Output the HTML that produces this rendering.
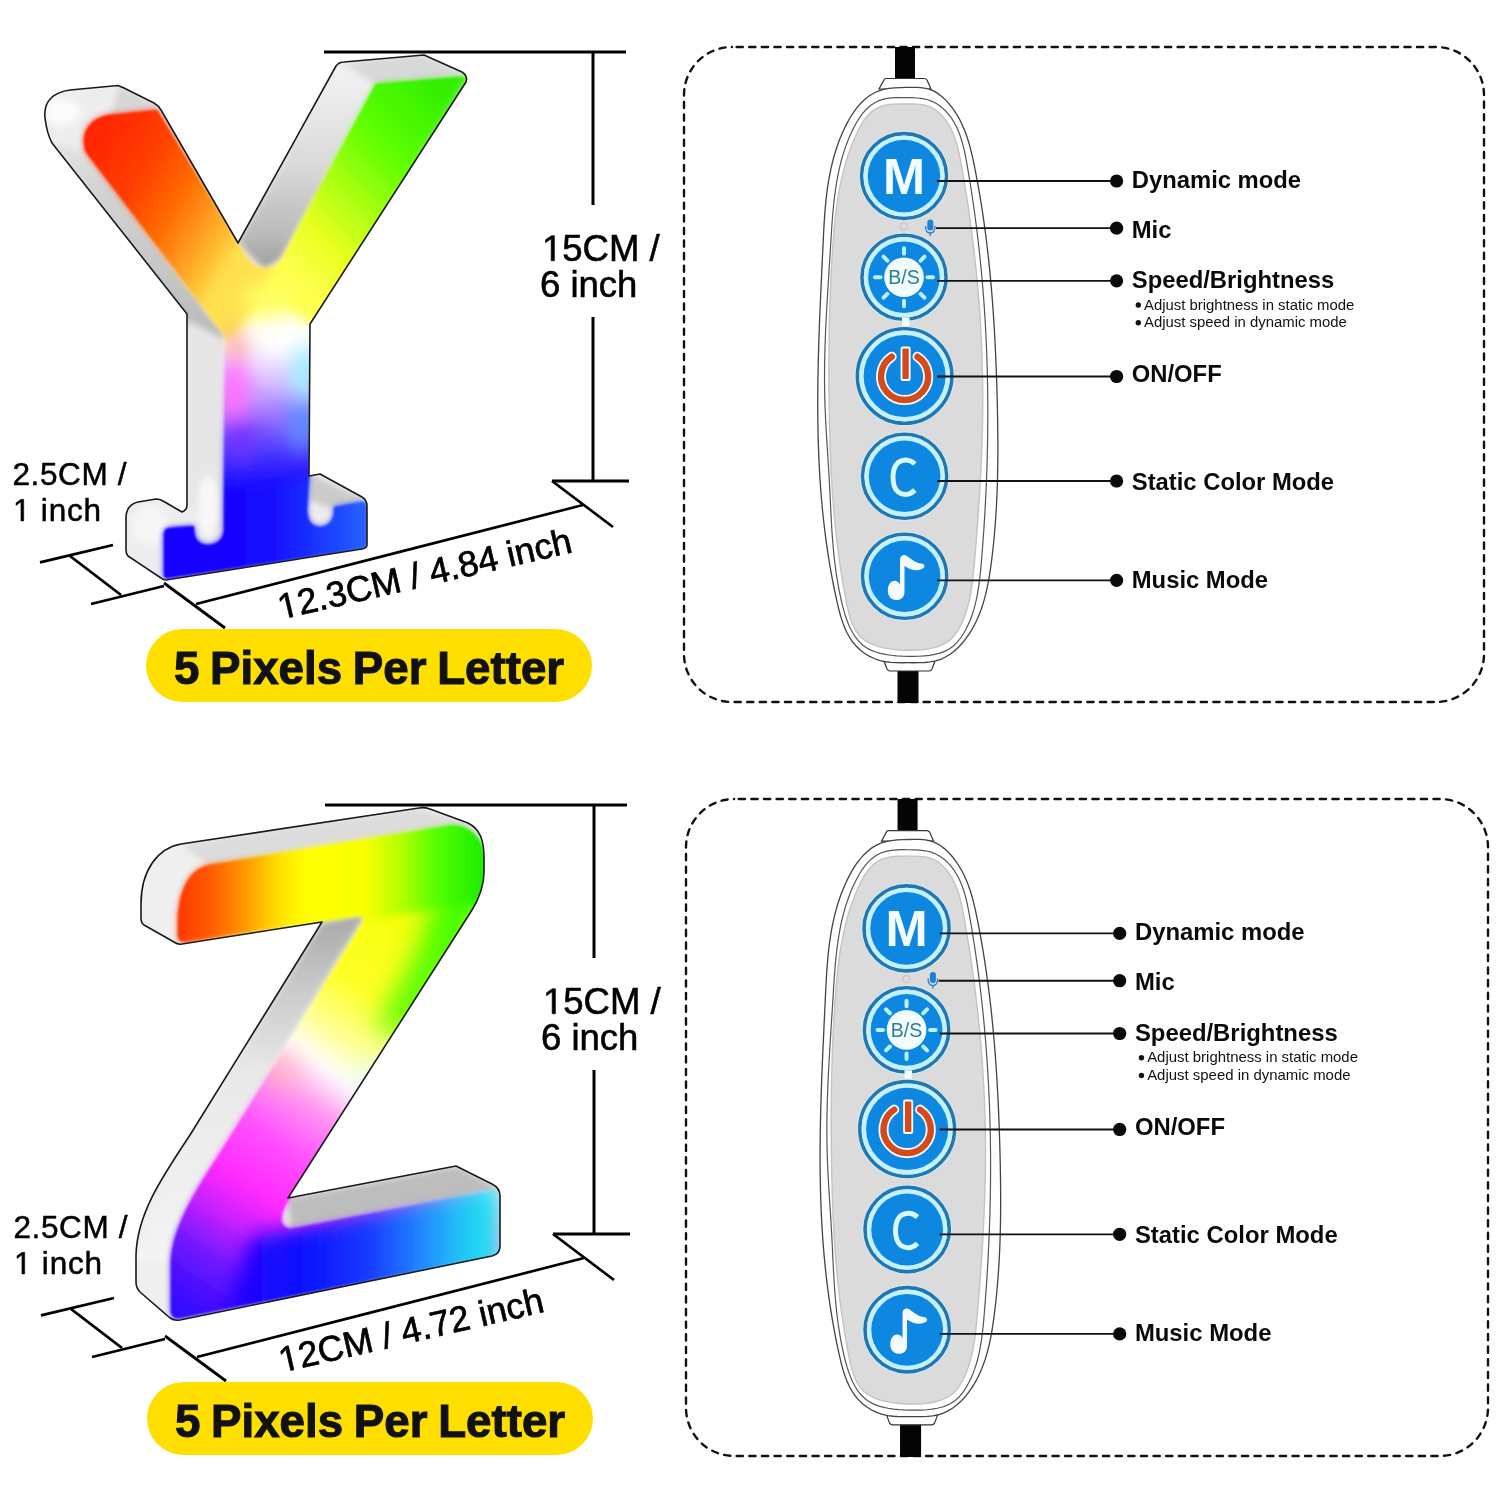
<!DOCTYPE html>
<html><head><meta charset="utf-8"><style>
html,body{margin:0;padding:0;background:#fff;}
body{width:1500px;height:1500px;overflow:hidden;font-family:"Liberation Sans", sans-serif;}
svg{display:block;}
</style></head><body>
<svg width="1500" height="1500" viewBox="0 0 1500 1500">
<rect width="1500" height="1500" fill="#fff"/>
<defs><filter id="bl22" filterUnits="userSpaceOnUse" x="0" y="0" width="800" height="1500"><feGaussianBlur stdDeviation="22"/></filter>
<filter id="bl14" filterUnits="userSpaceOnUse" x="0" y="0" width="800" height="1500"><feGaussianBlur stdDeviation="14"/></filter>
<filter id="bl10" filterUnits="userSpaceOnUse" x="0" y="0" width="800" height="1500"><feGaussianBlur stdDeviation="10"/></filter>
<filter id="bl8" filterUnits="userSpaceOnUse" x="0" y="0" width="800" height="1500"><feGaussianBlur stdDeviation="8"/></filter>
<filter id="bl6" filterUnits="userSpaceOnUse" x="0" y="0" width="800" height="1500"><feGaussianBlur stdDeviation="6"/></filter>
<filter id="bl4" filterUnits="userSpaceOnUse" x="0" y="0" width="800" height="1500"><feGaussianBlur stdDeviation="4"/></filter>
<filter id="bl3" filterUnits="userSpaceOnUse" x="0" y="0" width="800" height="1500"><feGaussianBlur stdDeviation="3"/></filter>
<filter id="bl2" filterUnits="userSpaceOnUse" x="0" y="0" width="800" height="1500"><feGaussianBlur stdDeviation="2.2"/></filter>
<filter id="bl1" filterUnits="userSpaceOnUse" x="0" y="0" width="800" height="1500"><feGaussianBlur stdDeviation="1.2"/></filter></defs>
<defs>
<clipPath id="yclip"><path d="M45,118 C43,100 55,92 70,90 L118,85.5 L124,88 L154,103 Q159,106 161,110 L238,243 L336,66 Q339,62 344,62 L424,55 L462,72 Q468,76 466,82 L310,324 L309,476 L320,474 L362,497 Q367,500 367,506 L367,545 Q367,548 362,549 L166,580 Q163,580 161,578 L128,556 Q126,554 126,550 L126,518 Q126,505 138,502 L156,499 Q160,499 163,501 L182,512 Q187,510 187,505 L187,314 L52,143 Q47,134 45,118 Z"/></clipPath>
<mask id="yface" maskUnits="userSpaceOnUse" x="0" y="0" width="700" height="700"><path d="M86,152 C80,135 88,118 110,115 L157,110 L238,244 C244,256 252,268 264,269 C272,270 278,265 282,258 L376,84 L462,77 Q468,77 466,84 L310,324 L309,476 L307,510 C307,522 313,527 320,527 C328,527 334,520 334,512 L334,507 L362,502 Q367,502 367,507 L367,543 Q367,548 362,549 L168,578 Q164,579 164,575 L164,534 Q164,528 170,528 L194,526 L194,530 C194,540 200,545 208,545 C218,545 224,538 224,530 L225,335 Z" fill="#fff" filter="url(#bl3)"/><path d="M86,152 C80,135 88,118 110,115 L157,110 L238,244 C244,256 252,268 264,269 C272,270 278,265 282,258 L376,84 L462,77 Q468,77 466,84 L310,324 L309,476 L307,510 C307,522 313,527 320,527 C328,527 334,520 334,512 L334,507 L362,502 Q367,502 367,507 L367,543 Q367,548 362,549 L168,578 Q164,579 164,575 L164,534 Q164,528 170,528 L194,526 L194,530 C194,540 200,545 208,545 C218,545 224,538 224,530 L225,335 Z" fill="#fff" filter="url(#bl1)"/></mask>
<linearGradient id="yrarm" gradientUnits="userSpaceOnUse" x1="0" y1="60" x2="0" y2="270"><stop offset="0" stop-color="#f4f4f4"/><stop offset="0.5" stop-color="#dadada"/><stop offset="0.85" stop-color="#b8b8b8"/><stop offset="1" stop-color="#9c9c9c"/></linearGradient>
<linearGradient id="ylarm" gradientUnits="userSpaceOnUse" x1="0" y1="120" x2="0" y2="340"><stop offset="0" stop-color="#ececec"/><stop offset="0.3" stop-color="#d4d4d4"/><stop offset="0.7" stop-color="#c6c6c6"/><stop offset="1" stop-color="#b8b8b8"/></linearGradient>
<linearGradient id="yl" gradientUnits="userSpaceOnUse" x1="95" y1="150" x2="245" y2="240"><stop offset="0" stop-color="#ff2800"/><stop offset="0.3" stop-color="#ff4000"/><stop offset="0.55" stop-color="#ff6a00"/><stop offset="0.75" stop-color="#ff9a20"/><stop offset="0.9" stop-color="#ffc030"/><stop offset="1" stop-color="#ffe050"/></linearGradient>
<linearGradient id="yr" gradientUnits="userSpaceOnUse" x1="285" y1="270" x2="455" y2="100"><stop offset="0" stop-color="#ffff50"/><stop offset="0.2" stop-color="#eaff20"/><stop offset="0.42" stop-color="#a8ff10"/><stop offset="0.65" stop-color="#60ff00"/><stop offset="1" stop-color="#30f000"/></linearGradient>
<linearGradient id="ys" gradientUnits="userSpaceOnUse" x1="0" y1="290" x2="0" y2="520"><stop offset="0" stop-color="#ffff70"/><stop offset="0.2" stop-color="#ffffff"/><stop offset="0.38" stop-color="#e0c8ff"/><stop offset="0.55" stop-color="#9a70ff"/><stop offset="0.72" stop-color="#4030ff"/><stop offset="0.86" stop-color="#1a0cff"/><stop offset="1" stop-color="#1008ff"/></linearGradient>
<linearGradient id="yb" gradientUnits="userSpaceOnUse" x1="160" y1="0" x2="370" y2="0"><stop offset="0" stop-color="#1a00ff"/><stop offset="0.5" stop-color="#1208ff"/><stop offset="0.8" stop-color="#1c40ff"/><stop offset="1" stop-color="#2a66ff"/></linearGradient>
</defs>
<path d="M45,118 C43,100 55,92 70,90 L118,85.5 L124,88 L154,103 Q159,106 161,110 L238,243 L336,66 Q339,62 344,62 L424,55 L462,72 Q468,76 466,82 L310,324 L309,476 L320,474 L362,497 Q367,500 367,506 L367,545 Q367,548 362,549 L166,580 Q163,580 161,578 L128,556 Q126,554 126,550 L126,518 Q126,505 138,502 L156,499 Q160,499 163,501 L182,512 Q187,510 187,505 L187,314 L52,143 Q47,134 45,118 Z" fill="#ededed"/>
<g clip-path="url(#yclip)">
<g filter="url(#bl3)">
<path d="M52,143 L86,152 L225,335 L225,345 L187,330 Z" fill="url(#ylarm)"/>
<path d="M238,243 L336,66 L376,84 L282,258 L264,269 Z" fill="url(#yrarm)"/>
<path d="M344,62 L424,55 L462,72 L462,78 L376,86 Z" fill="#d8d8d8"/>
<path d="M120,85 L154,103 L161,112 L110,116 Z" fill="#d6d6d6"/>
<path d="M187,320 L225,340 L225,545 L187,505 Z" fill="#e6e6e6"/>
<path d="M309,474 L362,497 L367,506 L334,510 L309,500 Z" fill="#cbcbcb"/>
<ellipse cx="62" cy="112" rx="18" ry="14" fill="#fbfbfb"/>
<ellipse cx="150" cy="525" rx="18" ry="20" fill="#f6f6f6"/>
<ellipse cx="208" cy="505" rx="10" ry="30" fill="#f8f8f8"/>
</g>
<g mask="url(#yface)">
<g filter="url(#bl8)">
<rect x="150" y="280" width="200" height="300" fill="url(#ys)"/>
</g>
<g filter="url(#bl4)">
<path d="M60,100 L170,90 L290,285 L262,300 L232,340 L180,340 L60,170 Z" fill="url(#yl)"/>
<path d="M262,292 L370,70 L480,60 L320,330 L290,310 Z" fill="url(#yr)"/>
</g>
<g filter="url(#bl10)">
<ellipse cx="268" cy="300" rx="26" ry="18" fill="#ffff60"/>
<ellipse cx="282" cy="338" rx="26" ry="16" fill="#ffffff"/>
<ellipse cx="236" cy="345" rx="14" ry="14" fill="#ffb0a0"/>
<ellipse cx="234" cy="392" rx="16" ry="34" fill="#ff70ff"/>
<ellipse cx="304" cy="372" rx="14" ry="28" fill="#9ff0ff"/>
<ellipse cx="302" cy="425" rx="14" ry="26" fill="#5a90ff"/>
<ellipse cx="240" cy="440" rx="16" ry="22" fill="#7030ff"/>
</g>
<g filter="url(#bl4)">
<path d="M150,500 L380,470 L380,590 L150,590 Z" fill="url(#yb)"/>
</g>
</g>
</g>
<path d="M45,118 C43,100 55,92 70,90 L118,85.5 L124,88 L154,103 Q159,106 161,110 L238,243 L336,66 Q339,62 344,62 L424,55 L462,72 Q468,76 466,82 L310,324 L309,476 L320,474 L362,497 Q367,500 367,506 L367,545 Q367,548 362,549 L166,580 Q163,580 161,578 L128,556 Q126,554 126,550 L126,518 Q126,505 138,502 L156,499 Q160,499 163,501 L182,512 Q187,510 187,505 L187,314 L52,143 Q47,134 45,118 Z" fill="none" stroke="#1a1a1a" stroke-width="1.6" stroke-linejoin="round"/>
<defs>
<clipPath id="zclip"><path d="M141,904 C141,870 158,848 181,844 L419,808 Q424,807 430,809 L468,823 C480,829 484,840 484,858 L484,872 C484,885 480,897 472,910 L288,1198 L456,1166 L492,1184 Q500,1188 500,1196 L500,1246 Q500,1254 492,1256 L180,1320 Q174,1321 170,1318 L140,1292 Q136,1288 136,1282 L136,1255 C137,1215 160,1180 190,1135 L322,922 L182,944 Q178,945 174,942 L144,925 Q141,923 141,918 Z"/></clipPath>
<mask id="zface" maskUnits="userSpaceOnUse" x="0" y="700" width="700" height="800"><path d="M178,925 C178,890 190,868 210,865 L449,826 C465,824 484,836 484,858 L484,872 C484,885 480,897 472,910 L292,1194 C280,1212 276,1226 290,1229 L494,1190 Q500,1189 500,1196 L500,1246 Q500,1254 492,1256 L180,1318 Q171,1320 171,1310 L171,1262 C172,1225 200,1185 222,1150 L364,922 Q366,914 358,915 L186,942 Q178,943 178,935 Z" fill="#fff" filter="url(#bl3)"/><path d="M178,925 C178,890 190,868 210,865 L449,826 C465,824 484,836 484,858 L484,872 C484,885 480,897 472,910 L292,1194 C280,1212 276,1226 290,1229 L494,1190 Q500,1189 500,1196 L500,1246 Q500,1254 492,1256 L180,1318 Q171,1320 171,1310 L171,1262 C172,1225 200,1185 222,1150 L364,922 Q366,914 358,915 L186,942 Q178,943 178,935 Z" fill="#fff" filter="url(#bl1)"/></mask>
<linearGradient id="zdiag" gradientUnits="userSpaceOnUse" x1="0" y1="915" x2="0" y2="1260"><stop offset="0" stop-color="#a8a8a8"/><stop offset="0.2" stop-color="#c8c8c8"/><stop offset="0.45" stop-color="#e8e8e8"/><stop offset="1" stop-color="#f4f4f4"/></linearGradient>
<linearGradient id="zt" gradientUnits="userSpaceOnUse" x1="180" y1="0" x2="480" y2="0"><stop offset="0" stop-color="#ff3a00"/><stop offset="0.1" stop-color="#ff5a00"/><stop offset="0.22" stop-color="#ff9a00"/><stop offset="0.33" stop-color="#ffe000"/><stop offset="0.42" stop-color="#ffff00"/><stop offset="0.62" stop-color="#f8ff00"/><stop offset="0.74" stop-color="#b0ff00"/><stop offset="0.86" stop-color="#50ff00"/><stop offset="1" stop-color="#20ee00"/></linearGradient>
<linearGradient id="zd" gradientUnits="userSpaceOnUse" x1="440" y1="900" x2="170" y2="1300"><stop offset="0" stop-color="#f4ff00"/><stop offset="0.25" stop-color="#ffff28"/><stop offset="0.36" stop-color="#ffffa0"/><stop offset="0.42" stop-color="#ffffff"/><stop offset="0.5" stop-color="#ff98f0"/><stop offset="0.6" stop-color="#ff50ff"/><stop offset="0.72" stop-color="#ff28ff"/><stop offset="0.8" stop-color="#c020ff"/><stop offset="0.88" stop-color="#7018ff"/><stop offset="1" stop-color="#3008ff"/></linearGradient>
<linearGradient id="zb" gradientUnits="userSpaceOnUse" x1="170" y1="0" x2="500" y2="0"><stop offset="0" stop-color="#4a00ff"/><stop offset="0.2" stop-color="#2400ff"/><stop offset="0.4" stop-color="#0c10ff"/><stop offset="0.6" stop-color="#1838ff"/><stop offset="0.75" stop-color="#2080ff"/><stop offset="0.86" stop-color="#20b8f8"/><stop offset="0.95" stop-color="#22dcf0"/><stop offset="1" stop-color="#30ecf0"/></linearGradient>
</defs>
<path d="M141,904 C141,870 158,848 181,844 L419,808 Q424,807 430,809 L468,823 C480,829 484,840 484,858 L484,872 C484,885 480,897 472,910 L288,1198 L456,1166 L492,1184 Q500,1188 500,1196 L500,1246 Q500,1254 492,1256 L180,1320 Q174,1321 170,1318 L140,1292 Q136,1288 136,1282 L136,1255 C137,1215 160,1180 190,1135 L322,922 L182,944 Q178,945 174,942 L144,925 Q141,923 141,918 Z" fill="#efefef"/>
<g clip-path="url(#zclip)">
<g filter="url(#bl3)">
<path d="M322,922 L366,914 L222,1150 L171,1265 L136,1258 L190,1135 Z" fill="url(#zdiag)"/>
<path d="M181,844 L419,808 L468,823 L484,840 L449,828 L210,866 Z" fill="#dcdcdc"/>
<path d="M288,1198 L456,1166 L492,1184 L500,1192 L290,1229 Z" fill="#bdbdbd"/>
</g>
<g mask="url(#zface)">
<g filter="url(#bl8)">
<path d="M120,900 L500,860 L500,1350 L120,1350 Z" fill="url(#zd)"/>
</g>
<g filter="url(#bl14)">
<path d="M500,840 L500,890 L478,925 L405,1035 L378,1030 L420,950 L440,880 L450,840 Z" fill="#40ff00"/>
<ellipse cx="372" cy="1082" rx="12" ry="26" transform="rotate(32 372 1082)" fill="#d8ffff"/>
<ellipse cx="283" cy="1070" rx="12" ry="16" fill="#ffb0a0"/>
</g>
<g filter="url(#bl4)">
<path d="M130,790 L500,770 L500,900 L380,918 L130,955 Z" fill="url(#zt)"/>
</g>
<g filter="url(#bl10)">
<path d="M250,1238 L500,1182 L500,1340 L215,1340 Z" fill="url(#zb)"/>
</g>
</g>
</g>
<path d="M141,904 C141,870 158,848 181,844 L419,808 Q424,807 430,809 L468,823 C480,829 484,840 484,858 L484,872 C484,885 480,897 472,910 L288,1198 L456,1166 L492,1184 Q500,1188 500,1196 L500,1246 Q500,1254 492,1256 L180,1320 Q174,1321 170,1318 L140,1292 Q136,1288 136,1282 L136,1255 C137,1215 160,1180 190,1135 L322,922 L182,944 Q178,945 174,942 L144,925 Q141,923 141,918 Z" fill="none" stroke="#1a1a1a" stroke-width="1.6" stroke-linejoin="round"/>
<g id="p1">
<rect x="684" y="47" width="800" height="655" rx="48" ry="48" fill="none" stroke="#111" stroke-width="2.4" stroke-dasharray="6.2 6.4" stroke-dashoffset="-4.6" stroke-linecap="round"/>
<rect x="895" y="47" width="20" height="33" fill="#050505"/>
<rect x="897.5" y="669" width="21" height="34" fill="#050505"/>
<path d="M884,80 Q884,78.5 886,78.5 L924,78.5 Q926,78.5 927,80 L931,89 L879,89 Z" fill="#fff" stroke="#333" stroke-width="1.2"/>
<path d="M884,661 L935,661 L932,669 Q931,671 929,671 L890,671 Q888,671 887,669 Z" fill="#fff" stroke="#333" stroke-width="1.2"/>
<path d="M906.18,87.39 L911.88,87.28 L917.44,87.35 L922.84,87.81 L928.03,88.87 L932.99,90.70 L937.69,93.36 L942.09,96.71 L946.20,100.59 L949.98,104.86 L953.41,109.37 L956.50,114.03 L959.27,118.81 L961.75,123.72 L963.96,128.72 L965.94,133.82 L967.70,139.00 L969.29,144.25 L970.71,149.56 L972.01,154.91 L973.21,160.30 L974.33,165.71 L975.41,171.13 L976.45,176.56 L977.46,181.99 L978.44,187.42 L979.39,192.86 L980.31,198.30 L981.19,203.75 L982.05,209.21 L982.87,214.66 L983.67,220.12 L984.44,225.59 L985.18,231.06 L985.90,236.53 L986.58,242.00 L987.24,247.48 L987.88,252.96 L988.49,258.44 L989.07,263.93 L989.63,269.42 L990.17,274.91 L990.68,280.40 L991.17,285.90 L991.64,291.40 L992.09,296.89 L992.52,302.40 L992.93,307.90 L993.31,313.40 L993.68,318.91 L994.03,324.41 L994.36,329.92 L994.67,335.42 L994.97,340.93 L995.25,346.44 L995.51,351.95 L995.76,357.45 L995.99,362.96 L996.21,368.47 L996.41,373.98 L996.60,379.48 L996.78,384.99 L996.95,390.49 L997.10,396.00 L997.24,401.50 L997.38,407.00 L997.49,412.50 L997.60,418.00 L997.69,423.50 L997.76,428.99 L997.82,434.49 L997.86,439.99 L997.88,445.48 L997.88,450.98 L997.85,456.47 L997.81,461.97 L997.73,467.46 L997.63,472.96 L997.51,478.45 L997.36,483.95 L997.17,489.45 L996.96,494.95 L996.71,500.44 L996.43,505.94 L996.12,511.45 L995.77,516.95 L995.38,522.45 L994.95,527.96 L994.49,533.46 L993.98,538.97 L993.43,544.48 L992.84,549.99 L992.21,555.51 L991.53,561.02 L990.79,566.54 L989.99,572.05 L989.11,577.54 L988.13,583.01 L987.02,588.44 L985.78,593.83 L984.39,599.17 L982.83,604.45 L981.07,609.66 L979.12,614.80 L976.94,619.84 L974.52,624.80 L971.85,629.65 L968.90,634.38 L965.68,638.94 L962.19,643.26 L958.43,647.30 L954.39,650.98 L950.09,654.24 L945.52,657.03 L940.69,659.27 L935.59,660.92 L930.25,661.96 L924.71,662.51 L919.05,662.72 L913.33,662.75 L907.61,662.72 L901.95,662.74 L896.35,662.68 L890.81,662.40 L885.35,661.75 L879.96,660.58 L874.67,658.77 L869.55,656.38 L864.73,653.45 L860.30,650.09 L856.37,646.34 L852.91,642.26 L849.90,637.88 L847.27,633.25 L844.99,628.38 L843.00,623.33 L841.26,618.12 L839.72,612.79 L838.34,607.38 L837.07,601.92 L835.86,596.45 L834.70,590.98 L833.58,585.50 L832.51,580.03 L831.48,574.55 L830.50,569.08 L829.57,563.60 L828.67,558.12 L827.81,552.64 L827.00,547.16 L826.23,541.68 L825.49,536.20 L824.80,530.72 L824.14,525.23 L823.52,519.75 L822.94,514.26 L822.39,508.78 L821.88,503.29 L821.40,497.81 L820.95,492.32 L820.54,486.83 L820.16,481.34 L819.81,475.85 L819.49,470.36 L819.20,464.87 L818.93,459.37 L818.70,453.88 L818.50,448.39 L818.32,442.89 L818.16,437.40 L818.03,431.90 L817.93,426.40 L817.85,420.91 L817.79,415.41 L817.76,409.91 L817.74,404.41 L817.75,398.91 L817.78,393.41 L817.82,387.90 L817.88,382.40 L817.97,376.90 L818.06,371.39 L818.18,365.89 L818.31,360.38 L818.45,354.87 L818.60,349.37 L818.77,343.86 L818.95,338.35 L819.14,332.84 L819.35,327.32 L819.56,321.81 L819.78,316.30 L820.00,310.78 L820.24,305.26 L820.48,299.75 L820.72,294.23 L820.97,288.71 L821.23,283.18 L821.49,277.66 L821.74,272.14 L822.01,266.61 L822.27,261.09 L822.53,255.56 L822.79,250.03 L823.05,244.50 L823.31,238.96 L823.58,233.43 L823.88,227.91 L824.20,222.39 L824.57,216.87 L824.98,211.37 L825.45,205.88 L825.99,200.40 L826.60,194.93 L827.30,189.49 L828.09,184.06 L828.99,178.65 L829.99,173.26 L831.12,167.91 L832.37,162.57 L833.77,157.27 L835.31,151.99 L837.00,146.75 L838.87,141.54 L840.91,136.37 L843.13,131.24 L845.54,126.15 L848.16,121.13 L851.00,116.24 L854.08,111.55 L857.40,107.12 L861.00,103.01 L864.87,99.28 L869.05,96.00 L873.54,93.22 L878.36,91.01 L883.52,89.42 L888.98,88.41 L894.65,87.84 L900.41,87.55Z" fill="#fff" stroke="#444" stroke-width="1.3"/>
<path d="M906.15,97.58 L911.84,97.69 L917.36,97.98 L922.70,98.63 L927.81,99.78 L932.65,101.59 L937.21,104.08 L941.44,107.15 L945.30,110.66 L948.76,114.52 L951.82,118.63 L954.50,122.99 L956.84,127.55 L958.89,132.29 L960.66,137.20 L962.21,142.25 L963.57,147.41 L964.76,152.65 L965.83,157.96 L966.82,163.31 L967.75,168.67 L968.66,174.03 L969.55,179.39 L970.41,184.74 L971.25,190.09 L972.07,195.43 L972.86,200.77 L973.63,206.10 L974.38,211.44 L975.11,216.76 L975.82,222.09 L976.50,227.41 L977.17,232.73 L977.81,238.05 L978.43,243.36 L979.03,248.67 L979.61,253.98 L980.16,259.29 L980.70,264.59 L981.22,269.89 L981.71,275.19 L982.19,280.49 L982.64,285.79 L983.07,291.08 L983.49,296.38 L983.88,301.67 L984.26,306.96 L984.61,312.25 L984.95,317.54 L985.26,322.84 L985.56,328.12 L985.84,333.41 L986.10,338.70 L986.34,343.99 L986.56,349.28 L986.77,354.57 L986.95,359.86 L987.12,365.16 L987.27,370.45 L987.40,375.74 L987.51,381.03 L987.60,386.33 L987.68,391.63 L987.74,396.92 L987.79,402.22 L987.81,407.53 L987.82,412.83 L987.81,418.13 L987.79,423.44 L987.75,428.75 L987.69,434.06 L987.61,439.37 L987.52,444.69 L987.41,450.00 L987.28,455.32 L987.14,460.64 L986.98,465.96 L986.80,471.28 L986.61,476.61 L986.40,481.94 L986.18,487.26 L985.94,492.60 L985.68,497.93 L985.41,503.26 L985.12,508.60 L984.81,513.94 L984.49,519.28 L984.16,524.62 L983.80,529.97 L983.44,535.31 L983.05,540.66 L982.65,546.01 L982.24,551.36 L981.80,556.72 L981.36,562.08 L980.89,567.43 L980.37,572.78 L979.80,578.11 L979.14,583.43 L978.37,588.71 L977.48,593.96 L976.44,599.16 L975.24,604.32 L973.85,609.41 L972.26,614.45 L970.44,619.41 L968.36,624.29 L966.02,629.09 L963.39,633.78 L960.44,638.26 L957.12,642.39 L953.40,646.02 L949.24,649.02 L944.68,651.37 L939.80,653.15 L934.70,654.45 L929.47,655.35 L924.18,655.92 L918.81,656.24 L913.36,656.34 L907.82,656.30 L902.20,656.13 L896.56,655.80 L890.95,655.26 L885.46,654.45 L880.15,653.31 L875.09,651.79 L870.34,649.84 L865.98,647.40 L862.06,644.43 L858.56,640.97 L855.45,637.07 L852.69,632.79 L850.26,628.18 L848.11,623.30 L846.21,618.20 L844.53,612.94 L843.04,607.58 L841.70,602.16 L840.47,596.74 L839.35,591.35 L838.32,585.97 L837.39,580.62 L836.53,575.28 L835.76,569.96 L835.06,564.66 L834.43,559.37 L833.85,554.09 L833.34,548.81 L832.88,543.55 L832.46,538.29 L832.08,533.04 L831.74,527.79 L831.43,522.55 L831.14,517.30 L830.86,512.05 L830.60,506.80 L830.35,501.54 L830.10,496.28 L829.85,491.01 L829.58,485.73 L829.30,480.43 L829.00,475.13 L828.68,469.81 L828.36,464.48 L828.02,459.15 L827.67,453.80 L827.33,448.45 L826.99,443.10 L826.65,437.74 L826.33,432.38 L826.02,427.02 L825.73,421.66 L825.47,416.31 L825.23,410.96 L825.02,405.61 L824.85,400.27 L824.71,394.94 L824.61,389.62 L824.55,384.31 L824.53,379.00 L824.53,373.70 L824.57,368.40 L824.64,363.11 L824.74,357.82 L824.86,352.53 L825.01,347.25 L825.18,341.96 L825.38,336.68 L825.59,331.40 L825.83,326.12 L826.08,320.84 L826.35,315.55 L826.63,310.27 L826.93,304.98 L827.23,299.68 L827.55,294.38 L827.87,289.08 L828.20,283.77 L828.54,278.45 L828.87,273.13 L829.21,267.79 L829.55,262.45 L829.89,257.10 L830.23,251.74 L830.56,246.36 L830.89,240.98 L831.22,235.59 L831.57,230.20 L831.94,224.80 L832.34,219.41 L832.78,214.03 L833.26,208.65 L833.81,203.29 L834.41,197.94 L835.09,192.62 L835.85,187.32 L836.69,182.04 L837.64,176.79 L838.69,171.58 L839.85,166.40 L841.14,161.27 L842.55,156.17 L844.11,151.13 L845.81,146.13 L847.66,141.19 L849.68,136.30 L851.88,131.48 L854.25,126.71 L856.82,122.05 L859.63,117.57 L862.71,113.36 L866.11,109.49 L869.84,106.06 L873.96,103.15 L878.50,100.83 L883.49,99.20 L888.88,98.21 L894.55,97.71 L900.35,97.55Z" fill="#fff" stroke="#555" stroke-width="1.2"/>
<path d="M906.21,103.96 L911.77,103.99 L917.16,104.17 L922.32,104.70 L927.22,105.77 L931.81,107.59 L936.05,110.20 L939.92,113.45 L943.40,117.16 L946.48,121.18 L949.17,125.43 L951.51,129.87 L953.53,134.48 L955.28,139.25 L956.80,144.14 L958.11,149.14 L959.28,154.23 L960.32,159.36 L961.28,164.54 L962.20,169.72 L963.09,174.91 L963.97,180.09 L964.83,185.27 L965.67,190.45 L966.49,195.62 L967.29,200.80 L968.07,205.97 L968.84,211.14 L969.58,216.30 L970.30,221.47 L971.00,226.63 L971.68,231.80 L972.35,236.96 L972.99,242.12 L973.61,247.28 L974.21,252.43 L974.80,257.59 L975.36,262.75 L975.90,267.90 L976.42,273.05 L976.92,278.21 L977.41,283.36 L977.87,288.51 L978.31,293.66 L978.73,298.81 L979.13,303.96 L979.50,309.11 L979.86,314.26 L980.20,319.40 L980.52,324.55 L980.81,329.70 L981.09,334.85 L981.34,340.00 L981.57,345.15 L981.78,350.30 L981.98,355.45 L982.15,360.60 L982.29,365.75 L982.42,370.90 L982.53,376.05 L982.61,381.20 L982.67,386.35 L982.72,391.51 L982.74,396.66 L982.74,401.82 L982.71,406.97 L982.67,412.13 L982.61,417.29 L982.52,422.45 L982.42,427.61 L982.30,432.78 L982.16,437.94 L982.00,443.11 L981.82,448.27 L981.63,453.44 L981.42,458.61 L981.19,463.78 L980.95,468.96 L980.69,474.13 L980.42,479.30 L980.13,484.48 L979.83,489.66 L979.52,494.84 L979.19,500.02 L978.85,505.20 L978.50,510.39 L978.14,515.58 L977.76,520.76 L977.38,525.95 L976.99,531.15 L976.58,536.34 L976.17,541.54 L975.75,546.73 L975.32,551.93 L974.88,557.13 L974.44,562.33 L973.98,567.54 L973.48,572.73 L972.92,577.91 L972.29,583.07 L971.56,588.21 L970.71,593.31 L969.72,598.37 L968.56,603.38 L967.23,608.34 L965.69,613.24 L963.93,618.08 L961.92,622.84 L959.64,627.51 L957.02,631.97 L953.98,636.06 L950.43,639.62 L946.36,642.56 L941.88,644.93 L937.10,646.78 L932.15,648.17 L927.12,649.15 L922.05,649.79 L916.90,650.14 L911.63,650.25 L906.23,650.18 L900.69,649.95 L895.11,649.51 L889.55,648.83 L884.10,647.86 L878.83,646.58 L873.84,644.93 L869.19,642.88 L864.97,640.38 L861.25,637.41 L858.08,633.94 L855.41,630.03 L853.16,625.74 L851.28,621.14 L849.71,616.29 L848.37,611.25 L847.20,606.09 L846.15,600.86 L845.15,595.63 L844.19,590.41 L843.27,585.19 L842.38,579.97 L841.54,574.77 L840.72,569.56 L839.95,564.37 L839.21,559.18 L838.50,553.99 L837.83,548.80 L837.19,543.63 L836.58,538.45 L836.00,533.28 L835.45,528.11 L834.93,522.95 L834.44,517.79 L833.98,512.63 L833.54,507.47 L833.13,502.32 L832.74,497.17 L832.38,492.02 L832.04,486.87 L831.73,481.73 L831.43,476.58 L831.16,471.44 L830.91,466.29 L830.67,461.15 L830.46,456.01 L830.26,450.87 L830.08,445.73 L829.91,440.58 L829.76,435.44 L829.63,430.30 L829.51,425.15 L829.40,420.00 L829.30,414.86 L829.22,409.71 L829.14,404.55 L829.08,399.40 L829.02,394.24 L828.97,389.08 L828.94,383.92 L828.91,378.76 L828.89,373.59 L828.89,368.42 L828.89,363.26 L828.91,358.08 L828.94,352.91 L828.98,347.73 L829.03,342.56 L829.10,337.38 L829.18,332.20 L829.28,327.02 L829.38,321.83 L829.51,316.65 L829.65,311.47 L829.80,306.28 L829.97,301.09 L830.15,295.90 L830.35,290.71 L830.57,285.52 L830.81,280.33 L831.06,275.14 L831.33,269.95 L831.62,264.75 L831.93,259.56 L832.26,254.37 L832.61,249.17 L832.97,243.98 L833.37,238.79 L833.79,233.60 L834.24,228.41 L834.74,223.23 L835.28,218.06 L835.88,212.90 L836.53,207.74 L837.24,202.61 L838.02,197.48 L838.88,192.37 L839.81,187.28 L840.83,182.21 L841.94,177.16 L843.15,172.14 L844.45,167.14 L845.87,162.16 L847.39,157.21 L849.03,152.29 L850.80,147.41 L852.69,142.55 L854.72,137.73 L856.89,132.95 L859.23,128.26 L861.77,123.73 L864.58,119.47 L867.69,115.57 L871.15,112.12 L875.02,109.22 L879.34,106.95 L884.14,105.40 L889.36,104.50 L894.88,104.08 L900.54,103.96Z" fill="#dcdbdb" stroke="#c9c0c4" stroke-width="1.4"/>
<circle cx="904" cy="176" r="45.2" fill="#c6f0ff"/><circle cx="904" cy="176" r="42.4" fill="none" stroke="#2775ad" stroke-width="3.6"/><circle cx="904" cy="176" r="38.4" fill="none" stroke="#c4f1ff" stroke-width="4.4"/><circle cx="904" cy="176" r="36.2" fill="#0d87e0"/>
<circle cx="904" cy="277.2" r="44.800000000000004" fill="#c6f0ff"/><circle cx="904" cy="277.2" r="42.0" fill="none" stroke="#2775ad" stroke-width="3.6"/><circle cx="904" cy="277.2" r="38.0" fill="none" stroke="#c4f1ff" stroke-width="4.4"/><circle cx="904" cy="277.2" r="35.800000000000004" fill="#0d87e0"/>
<circle cx="904.6" cy="376" r="50.0" fill="#c6f0ff"/><circle cx="904.6" cy="376" r="47.199999999999996" fill="none" stroke="#2775ad" stroke-width="3.6"/><circle cx="904.6" cy="376" r="43.199999999999996" fill="none" stroke="#c4f1ff" stroke-width="4.4"/><circle cx="904.6" cy="376" r="41.0" fill="#0d87e0"/>
<circle cx="904.6" cy="476.2" r="44.800000000000004" fill="#c6f0ff"/><circle cx="904.6" cy="476.2" r="42.0" fill="none" stroke="#2775ad" stroke-width="3.6"/><circle cx="904.6" cy="476.2" r="38.0" fill="none" stroke="#c4f1ff" stroke-width="4.4"/><circle cx="904.6" cy="476.2" r="35.800000000000004" fill="#0d87e0"/>
<circle cx="904.6" cy="576.2" r="44.800000000000004" fill="#c6f0ff"/><circle cx="904.6" cy="576.2" r="42.0" fill="none" stroke="#2775ad" stroke-width="3.6"/><circle cx="904.6" cy="576.2" r="38.0" fill="none" stroke="#c4f1ff" stroke-width="4.4"/><circle cx="904.6" cy="576.2" r="35.800000000000004" fill="#0d87e0"/>
<rect x="902" y="317.5" width="7.5" height="8.5" fill="#f4fbff"/>
<text x="904" y="194" font-family='"Liberation Sans", sans-serif' font-weight="bold" font-size="50.5" fill="#f2fcff" text-anchor="middle">M</text>
<circle cx="903.8" cy="226.5" r="3.6" fill="none" stroke="#e3b9c6" stroke-width="1.4"/>
<rect x="927.3" y="219.5" width="6" height="11" rx="3" fill="#1f7fd0"/>
<path d="M925.5,226 Q925.5,233 930.3,233 Q935,233 935,226" fill="none" stroke="#1f7fd0" stroke-width="1.3"/>
<line x1="930.3" y1="233" x2="930.3" y2="236" stroke="#1f7fd0" stroke-width="1.3"/>
<line x1="904.0" y1="253.7" x2="904.0" y2="248.2" stroke="#bdf0ff" stroke-width="4" stroke-linecap="round"/><line x1="920.6" y1="260.6" x2="924.5" y2="256.7" stroke="#bdf0ff" stroke-width="4" stroke-linecap="round"/><line x1="927.5" y1="277.2" x2="933.0" y2="277.2" stroke="#bdf0ff" stroke-width="4" stroke-linecap="round"/><line x1="920.6" y1="293.8" x2="924.5" y2="297.7" stroke="#bdf0ff" stroke-width="4" stroke-linecap="round"/><line x1="904.0" y1="300.7" x2="904.0" y2="306.2" stroke="#bdf0ff" stroke-width="4" stroke-linecap="round"/><line x1="887.4" y1="293.8" x2="883.5" y2="297.7" stroke="#bdf0ff" stroke-width="4" stroke-linecap="round"/><line x1="880.5" y1="277.2" x2="875.0" y2="277.2" stroke="#bdf0ff" stroke-width="4" stroke-linecap="round"/><line x1="887.4" y1="260.6" x2="883.5" y2="256.7" stroke="#bdf0ff" stroke-width="4" stroke-linecap="round"/>
<circle cx="904" cy="277.2" r="19.8" fill="#f1fcff"/>
<text x="904" y="284.2" font-family='"Liberation Sans", sans-serif' font-size="19.5" fill="#2f7d95" text-anchor="middle">B/S</text>
<path d="M891.7,356.7 A23.6,23.6 0 1 0 917.5,356.7" fill="none" stroke="#f4fbff" stroke-width="10" stroke-linecap="round"/>
<rect x="900.6" y="346.5" width="10" height="34.5" rx="2" fill="#f4fbff"/>
<path d="M891.7,356.7 A23.6,23.6 0 1 0 917.5,356.7" fill="none" stroke="#d44a1c" stroke-width="6.4" stroke-linecap="round"/>
<rect x="902.4" y="348.5" width="6.4" height="30.5" rx="1" fill="#d44a1c"/>
<path d="M914.8,464 C910.5,459.3 903.5,458.8 898.5,462.3 C891.5,467.8 891,485.5 898,491.8 C903.5,496.2 910.5,494.8 914.8,490" fill="none" stroke="#dcf9ff" stroke-width="4.9"/>
<path d="M900,592 L900,560 C900,555 904,554 907,556 C911,559 916,563 921,563.5 C925,564 926,567 922,569 C916,572 909,569 904.5,566 L904.5,592 C904.5,598 900,600.5 895.5,600 C889.5,599.5 887,594 888,588 C889,582 894,579 898,582 Q899.5,583 900,585 Z" fill="#f3fbff"/>
<line x1="937" y1="181" x2="1117" y2="181" stroke="#111" stroke-width="1.8"/>
<circle cx="1116.6" cy="181" r="6.6" fill="#0a0a0a"/>
<line x1="936" y1="228.2" x2="1117" y2="228.2" stroke="#111" stroke-width="1.8"/>
<circle cx="1116.6" cy="228.2" r="6.6" fill="#0a0a0a"/>
<line x1="937" y1="280.8" x2="1117" y2="280.8" stroke="#111" stroke-width="1.8"/>
<circle cx="1116.6" cy="280.8" r="6.6" fill="#0a0a0a"/>
<line x1="937" y1="376.5" x2="1117" y2="376.5" stroke="#111" stroke-width="1.8"/>
<circle cx="1116.6" cy="376.5" r="6.6" fill="#0a0a0a"/>
<line x1="937" y1="481" x2="1117" y2="481" stroke="#111" stroke-width="1.8"/>
<circle cx="1116.6" cy="481" r="6.6" fill="#0a0a0a"/>
<line x1="937" y1="580.3" x2="1117" y2="580.3" stroke="#111" stroke-width="1.8"/>
<circle cx="1116.6" cy="580.3" r="6.6" fill="#0a0a0a"/>
<text x="1131.8" y="187.9" font-family='"Liberation Sans", sans-serif' font-weight="bold" font-size="23.8" fill="#0a0a0a">Dynamic mode</text>
<text x="1131.8" y="237.8" font-family='"Liberation Sans", sans-serif' font-weight="bold" font-size="23.8" fill="#0a0a0a">Mic</text>
<text x="1131.8" y="287.8" font-family='"Liberation Sans", sans-serif' font-weight="bold" font-size="23.8" fill="#0a0a0a">Speed/Brightness</text>
<text x="1131.8" y="381.5" font-family='"Liberation Sans", sans-serif' font-weight="bold" font-size="23.8" fill="#0a0a0a">ON/OFF</text>
<text x="1131.8" y="489.5" font-family='"Liberation Sans", sans-serif' font-weight="bold" font-size="23.8" fill="#0a0a0a">Static Color Mode</text>
<text x="1131.8" y="587.6" font-family='"Liberation Sans", sans-serif' font-weight="bold" font-size="23.8" fill="#0a0a0a">Music Mode</text>
<circle cx="1138.3" cy="305" r="2.7" fill="#111"/>
<circle cx="1138.3" cy="322.7" r="2.7" fill="#111"/>
<text x="1144" y="309.7" font-family='"Liberation Sans", sans-serif' font-size="14.9" fill="#111">Adjust brightness in static mode</text>
<text x="1144" y="327.4" font-family='"Liberation Sans", sans-serif' font-size="14.9" fill="#111">Adjust speed in dynamic mode</text>
</g>
<g transform="translate(686,799) scale(1.0025,1.003) translate(-684,-47)">
<rect x="684" y="47" width="800" height="655" rx="48" ry="48" fill="none" stroke="#111" stroke-width="2.4" stroke-dasharray="6.2 6.4" stroke-dashoffset="-4.6" stroke-linecap="round"/>
<rect x="895" y="47" width="20" height="33" fill="#050505"/>
<rect x="897.5" y="669" width="21" height="34" fill="#050505"/>
<path d="M884,80 Q884,78.5 886,78.5 L924,78.5 Q926,78.5 927,80 L931,89 L879,89 Z" fill="#fff" stroke="#333" stroke-width="1.2"/>
<path d="M884,661 L935,661 L932,669 Q931,671 929,671 L890,671 Q888,671 887,669 Z" fill="#fff" stroke="#333" stroke-width="1.2"/>
<path d="M906.18,87.39 L911.88,87.28 L917.44,87.35 L922.84,87.81 L928.03,88.87 L932.99,90.70 L937.69,93.36 L942.09,96.71 L946.20,100.59 L949.98,104.86 L953.41,109.37 L956.50,114.03 L959.27,118.81 L961.75,123.72 L963.96,128.72 L965.94,133.82 L967.70,139.00 L969.29,144.25 L970.71,149.56 L972.01,154.91 L973.21,160.30 L974.33,165.71 L975.41,171.13 L976.45,176.56 L977.46,181.99 L978.44,187.42 L979.39,192.86 L980.31,198.30 L981.19,203.75 L982.05,209.21 L982.87,214.66 L983.67,220.12 L984.44,225.59 L985.18,231.06 L985.90,236.53 L986.58,242.00 L987.24,247.48 L987.88,252.96 L988.49,258.44 L989.07,263.93 L989.63,269.42 L990.17,274.91 L990.68,280.40 L991.17,285.90 L991.64,291.40 L992.09,296.89 L992.52,302.40 L992.93,307.90 L993.31,313.40 L993.68,318.91 L994.03,324.41 L994.36,329.92 L994.67,335.42 L994.97,340.93 L995.25,346.44 L995.51,351.95 L995.76,357.45 L995.99,362.96 L996.21,368.47 L996.41,373.98 L996.60,379.48 L996.78,384.99 L996.95,390.49 L997.10,396.00 L997.24,401.50 L997.38,407.00 L997.49,412.50 L997.60,418.00 L997.69,423.50 L997.76,428.99 L997.82,434.49 L997.86,439.99 L997.88,445.48 L997.88,450.98 L997.85,456.47 L997.81,461.97 L997.73,467.46 L997.63,472.96 L997.51,478.45 L997.36,483.95 L997.17,489.45 L996.96,494.95 L996.71,500.44 L996.43,505.94 L996.12,511.45 L995.77,516.95 L995.38,522.45 L994.95,527.96 L994.49,533.46 L993.98,538.97 L993.43,544.48 L992.84,549.99 L992.21,555.51 L991.53,561.02 L990.79,566.54 L989.99,572.05 L989.11,577.54 L988.13,583.01 L987.02,588.44 L985.78,593.83 L984.39,599.17 L982.83,604.45 L981.07,609.66 L979.12,614.80 L976.94,619.84 L974.52,624.80 L971.85,629.65 L968.90,634.38 L965.68,638.94 L962.19,643.26 L958.43,647.30 L954.39,650.98 L950.09,654.24 L945.52,657.03 L940.69,659.27 L935.59,660.92 L930.25,661.96 L924.71,662.51 L919.05,662.72 L913.33,662.75 L907.61,662.72 L901.95,662.74 L896.35,662.68 L890.81,662.40 L885.35,661.75 L879.96,660.58 L874.67,658.77 L869.55,656.38 L864.73,653.45 L860.30,650.09 L856.37,646.34 L852.91,642.26 L849.90,637.88 L847.27,633.25 L844.99,628.38 L843.00,623.33 L841.26,618.12 L839.72,612.79 L838.34,607.38 L837.07,601.92 L835.86,596.45 L834.70,590.98 L833.58,585.50 L832.51,580.03 L831.48,574.55 L830.50,569.08 L829.57,563.60 L828.67,558.12 L827.81,552.64 L827.00,547.16 L826.23,541.68 L825.49,536.20 L824.80,530.72 L824.14,525.23 L823.52,519.75 L822.94,514.26 L822.39,508.78 L821.88,503.29 L821.40,497.81 L820.95,492.32 L820.54,486.83 L820.16,481.34 L819.81,475.85 L819.49,470.36 L819.20,464.87 L818.93,459.37 L818.70,453.88 L818.50,448.39 L818.32,442.89 L818.16,437.40 L818.03,431.90 L817.93,426.40 L817.85,420.91 L817.79,415.41 L817.76,409.91 L817.74,404.41 L817.75,398.91 L817.78,393.41 L817.82,387.90 L817.88,382.40 L817.97,376.90 L818.06,371.39 L818.18,365.89 L818.31,360.38 L818.45,354.87 L818.60,349.37 L818.77,343.86 L818.95,338.35 L819.14,332.84 L819.35,327.32 L819.56,321.81 L819.78,316.30 L820.00,310.78 L820.24,305.26 L820.48,299.75 L820.72,294.23 L820.97,288.71 L821.23,283.18 L821.49,277.66 L821.74,272.14 L822.01,266.61 L822.27,261.09 L822.53,255.56 L822.79,250.03 L823.05,244.50 L823.31,238.96 L823.58,233.43 L823.88,227.91 L824.20,222.39 L824.57,216.87 L824.98,211.37 L825.45,205.88 L825.99,200.40 L826.60,194.93 L827.30,189.49 L828.09,184.06 L828.99,178.65 L829.99,173.26 L831.12,167.91 L832.37,162.57 L833.77,157.27 L835.31,151.99 L837.00,146.75 L838.87,141.54 L840.91,136.37 L843.13,131.24 L845.54,126.15 L848.16,121.13 L851.00,116.24 L854.08,111.55 L857.40,107.12 L861.00,103.01 L864.87,99.28 L869.05,96.00 L873.54,93.22 L878.36,91.01 L883.52,89.42 L888.98,88.41 L894.65,87.84 L900.41,87.55Z" fill="#fff" stroke="#444" stroke-width="1.3"/>
<path d="M906.15,97.58 L911.84,97.69 L917.36,97.98 L922.70,98.63 L927.81,99.78 L932.65,101.59 L937.21,104.08 L941.44,107.15 L945.30,110.66 L948.76,114.52 L951.82,118.63 L954.50,122.99 L956.84,127.55 L958.89,132.29 L960.66,137.20 L962.21,142.25 L963.57,147.41 L964.76,152.65 L965.83,157.96 L966.82,163.31 L967.75,168.67 L968.66,174.03 L969.55,179.39 L970.41,184.74 L971.25,190.09 L972.07,195.43 L972.86,200.77 L973.63,206.10 L974.38,211.44 L975.11,216.76 L975.82,222.09 L976.50,227.41 L977.17,232.73 L977.81,238.05 L978.43,243.36 L979.03,248.67 L979.61,253.98 L980.16,259.29 L980.70,264.59 L981.22,269.89 L981.71,275.19 L982.19,280.49 L982.64,285.79 L983.07,291.08 L983.49,296.38 L983.88,301.67 L984.26,306.96 L984.61,312.25 L984.95,317.54 L985.26,322.84 L985.56,328.12 L985.84,333.41 L986.10,338.70 L986.34,343.99 L986.56,349.28 L986.77,354.57 L986.95,359.86 L987.12,365.16 L987.27,370.45 L987.40,375.74 L987.51,381.03 L987.60,386.33 L987.68,391.63 L987.74,396.92 L987.79,402.22 L987.81,407.53 L987.82,412.83 L987.81,418.13 L987.79,423.44 L987.75,428.75 L987.69,434.06 L987.61,439.37 L987.52,444.69 L987.41,450.00 L987.28,455.32 L987.14,460.64 L986.98,465.96 L986.80,471.28 L986.61,476.61 L986.40,481.94 L986.18,487.26 L985.94,492.60 L985.68,497.93 L985.41,503.26 L985.12,508.60 L984.81,513.94 L984.49,519.28 L984.16,524.62 L983.80,529.97 L983.44,535.31 L983.05,540.66 L982.65,546.01 L982.24,551.36 L981.80,556.72 L981.36,562.08 L980.89,567.43 L980.37,572.78 L979.80,578.11 L979.14,583.43 L978.37,588.71 L977.48,593.96 L976.44,599.16 L975.24,604.32 L973.85,609.41 L972.26,614.45 L970.44,619.41 L968.36,624.29 L966.02,629.09 L963.39,633.78 L960.44,638.26 L957.12,642.39 L953.40,646.02 L949.24,649.02 L944.68,651.37 L939.80,653.15 L934.70,654.45 L929.47,655.35 L924.18,655.92 L918.81,656.24 L913.36,656.34 L907.82,656.30 L902.20,656.13 L896.56,655.80 L890.95,655.26 L885.46,654.45 L880.15,653.31 L875.09,651.79 L870.34,649.84 L865.98,647.40 L862.06,644.43 L858.56,640.97 L855.45,637.07 L852.69,632.79 L850.26,628.18 L848.11,623.30 L846.21,618.20 L844.53,612.94 L843.04,607.58 L841.70,602.16 L840.47,596.74 L839.35,591.35 L838.32,585.97 L837.39,580.62 L836.53,575.28 L835.76,569.96 L835.06,564.66 L834.43,559.37 L833.85,554.09 L833.34,548.81 L832.88,543.55 L832.46,538.29 L832.08,533.04 L831.74,527.79 L831.43,522.55 L831.14,517.30 L830.86,512.05 L830.60,506.80 L830.35,501.54 L830.10,496.28 L829.85,491.01 L829.58,485.73 L829.30,480.43 L829.00,475.13 L828.68,469.81 L828.36,464.48 L828.02,459.15 L827.67,453.80 L827.33,448.45 L826.99,443.10 L826.65,437.74 L826.33,432.38 L826.02,427.02 L825.73,421.66 L825.47,416.31 L825.23,410.96 L825.02,405.61 L824.85,400.27 L824.71,394.94 L824.61,389.62 L824.55,384.31 L824.53,379.00 L824.53,373.70 L824.57,368.40 L824.64,363.11 L824.74,357.82 L824.86,352.53 L825.01,347.25 L825.18,341.96 L825.38,336.68 L825.59,331.40 L825.83,326.12 L826.08,320.84 L826.35,315.55 L826.63,310.27 L826.93,304.98 L827.23,299.68 L827.55,294.38 L827.87,289.08 L828.20,283.77 L828.54,278.45 L828.87,273.13 L829.21,267.79 L829.55,262.45 L829.89,257.10 L830.23,251.74 L830.56,246.36 L830.89,240.98 L831.22,235.59 L831.57,230.20 L831.94,224.80 L832.34,219.41 L832.78,214.03 L833.26,208.65 L833.81,203.29 L834.41,197.94 L835.09,192.62 L835.85,187.32 L836.69,182.04 L837.64,176.79 L838.69,171.58 L839.85,166.40 L841.14,161.27 L842.55,156.17 L844.11,151.13 L845.81,146.13 L847.66,141.19 L849.68,136.30 L851.88,131.48 L854.25,126.71 L856.82,122.05 L859.63,117.57 L862.71,113.36 L866.11,109.49 L869.84,106.06 L873.96,103.15 L878.50,100.83 L883.49,99.20 L888.88,98.21 L894.55,97.71 L900.35,97.55Z" fill="#fff" stroke="#555" stroke-width="1.2"/>
<path d="M906.21,103.96 L911.77,103.99 L917.16,104.17 L922.32,104.70 L927.22,105.77 L931.81,107.59 L936.05,110.20 L939.92,113.45 L943.40,117.16 L946.48,121.18 L949.17,125.43 L951.51,129.87 L953.53,134.48 L955.28,139.25 L956.80,144.14 L958.11,149.14 L959.28,154.23 L960.32,159.36 L961.28,164.54 L962.20,169.72 L963.09,174.91 L963.97,180.09 L964.83,185.27 L965.67,190.45 L966.49,195.62 L967.29,200.80 L968.07,205.97 L968.84,211.14 L969.58,216.30 L970.30,221.47 L971.00,226.63 L971.68,231.80 L972.35,236.96 L972.99,242.12 L973.61,247.28 L974.21,252.43 L974.80,257.59 L975.36,262.75 L975.90,267.90 L976.42,273.05 L976.92,278.21 L977.41,283.36 L977.87,288.51 L978.31,293.66 L978.73,298.81 L979.13,303.96 L979.50,309.11 L979.86,314.26 L980.20,319.40 L980.52,324.55 L980.81,329.70 L981.09,334.85 L981.34,340.00 L981.57,345.15 L981.78,350.30 L981.98,355.45 L982.15,360.60 L982.29,365.75 L982.42,370.90 L982.53,376.05 L982.61,381.20 L982.67,386.35 L982.72,391.51 L982.74,396.66 L982.74,401.82 L982.71,406.97 L982.67,412.13 L982.61,417.29 L982.52,422.45 L982.42,427.61 L982.30,432.78 L982.16,437.94 L982.00,443.11 L981.82,448.27 L981.63,453.44 L981.42,458.61 L981.19,463.78 L980.95,468.96 L980.69,474.13 L980.42,479.30 L980.13,484.48 L979.83,489.66 L979.52,494.84 L979.19,500.02 L978.85,505.20 L978.50,510.39 L978.14,515.58 L977.76,520.76 L977.38,525.95 L976.99,531.15 L976.58,536.34 L976.17,541.54 L975.75,546.73 L975.32,551.93 L974.88,557.13 L974.44,562.33 L973.98,567.54 L973.48,572.73 L972.92,577.91 L972.29,583.07 L971.56,588.21 L970.71,593.31 L969.72,598.37 L968.56,603.38 L967.23,608.34 L965.69,613.24 L963.93,618.08 L961.92,622.84 L959.64,627.51 L957.02,631.97 L953.98,636.06 L950.43,639.62 L946.36,642.56 L941.88,644.93 L937.10,646.78 L932.15,648.17 L927.12,649.15 L922.05,649.79 L916.90,650.14 L911.63,650.25 L906.23,650.18 L900.69,649.95 L895.11,649.51 L889.55,648.83 L884.10,647.86 L878.83,646.58 L873.84,644.93 L869.19,642.88 L864.97,640.38 L861.25,637.41 L858.08,633.94 L855.41,630.03 L853.16,625.74 L851.28,621.14 L849.71,616.29 L848.37,611.25 L847.20,606.09 L846.15,600.86 L845.15,595.63 L844.19,590.41 L843.27,585.19 L842.38,579.97 L841.54,574.77 L840.72,569.56 L839.95,564.37 L839.21,559.18 L838.50,553.99 L837.83,548.80 L837.19,543.63 L836.58,538.45 L836.00,533.28 L835.45,528.11 L834.93,522.95 L834.44,517.79 L833.98,512.63 L833.54,507.47 L833.13,502.32 L832.74,497.17 L832.38,492.02 L832.04,486.87 L831.73,481.73 L831.43,476.58 L831.16,471.44 L830.91,466.29 L830.67,461.15 L830.46,456.01 L830.26,450.87 L830.08,445.73 L829.91,440.58 L829.76,435.44 L829.63,430.30 L829.51,425.15 L829.40,420.00 L829.30,414.86 L829.22,409.71 L829.14,404.55 L829.08,399.40 L829.02,394.24 L828.97,389.08 L828.94,383.92 L828.91,378.76 L828.89,373.59 L828.89,368.42 L828.89,363.26 L828.91,358.08 L828.94,352.91 L828.98,347.73 L829.03,342.56 L829.10,337.38 L829.18,332.20 L829.28,327.02 L829.38,321.83 L829.51,316.65 L829.65,311.47 L829.80,306.28 L829.97,301.09 L830.15,295.90 L830.35,290.71 L830.57,285.52 L830.81,280.33 L831.06,275.14 L831.33,269.95 L831.62,264.75 L831.93,259.56 L832.26,254.37 L832.61,249.17 L832.97,243.98 L833.37,238.79 L833.79,233.60 L834.24,228.41 L834.74,223.23 L835.28,218.06 L835.88,212.90 L836.53,207.74 L837.24,202.61 L838.02,197.48 L838.88,192.37 L839.81,187.28 L840.83,182.21 L841.94,177.16 L843.15,172.14 L844.45,167.14 L845.87,162.16 L847.39,157.21 L849.03,152.29 L850.80,147.41 L852.69,142.55 L854.72,137.73 L856.89,132.95 L859.23,128.26 L861.77,123.73 L864.58,119.47 L867.69,115.57 L871.15,112.12 L875.02,109.22 L879.34,106.95 L884.14,105.40 L889.36,104.50 L894.88,104.08 L900.54,103.96Z" fill="#dcdbdb" stroke="#c9c0c4" stroke-width="1.4"/>
<circle cx="904" cy="176" r="45.2" fill="#c6f0ff"/><circle cx="904" cy="176" r="42.4" fill="none" stroke="#2775ad" stroke-width="3.6"/><circle cx="904" cy="176" r="38.4" fill="none" stroke="#c4f1ff" stroke-width="4.4"/><circle cx="904" cy="176" r="36.2" fill="#0d87e0"/>
<circle cx="904" cy="277.2" r="44.800000000000004" fill="#c6f0ff"/><circle cx="904" cy="277.2" r="42.0" fill="none" stroke="#2775ad" stroke-width="3.6"/><circle cx="904" cy="277.2" r="38.0" fill="none" stroke="#c4f1ff" stroke-width="4.4"/><circle cx="904" cy="277.2" r="35.800000000000004" fill="#0d87e0"/>
<circle cx="904.6" cy="376" r="50.0" fill="#c6f0ff"/><circle cx="904.6" cy="376" r="47.199999999999996" fill="none" stroke="#2775ad" stroke-width="3.6"/><circle cx="904.6" cy="376" r="43.199999999999996" fill="none" stroke="#c4f1ff" stroke-width="4.4"/><circle cx="904.6" cy="376" r="41.0" fill="#0d87e0"/>
<circle cx="904.6" cy="476.2" r="44.800000000000004" fill="#c6f0ff"/><circle cx="904.6" cy="476.2" r="42.0" fill="none" stroke="#2775ad" stroke-width="3.6"/><circle cx="904.6" cy="476.2" r="38.0" fill="none" stroke="#c4f1ff" stroke-width="4.4"/><circle cx="904.6" cy="476.2" r="35.800000000000004" fill="#0d87e0"/>
<circle cx="904.6" cy="576.2" r="44.800000000000004" fill="#c6f0ff"/><circle cx="904.6" cy="576.2" r="42.0" fill="none" stroke="#2775ad" stroke-width="3.6"/><circle cx="904.6" cy="576.2" r="38.0" fill="none" stroke="#c4f1ff" stroke-width="4.4"/><circle cx="904.6" cy="576.2" r="35.800000000000004" fill="#0d87e0"/>
<rect x="902" y="317.5" width="7.5" height="8.5" fill="#f4fbff"/>
<text x="904" y="194" font-family='"Liberation Sans", sans-serif' font-weight="bold" font-size="50.5" fill="#f2fcff" text-anchor="middle">M</text>
<circle cx="903.8" cy="226.5" r="3.6" fill="none" stroke="#e3b9c6" stroke-width="1.4"/>
<rect x="927.3" y="219.5" width="6" height="11" rx="3" fill="#1f7fd0"/>
<path d="M925.5,226 Q925.5,233 930.3,233 Q935,233 935,226" fill="none" stroke="#1f7fd0" stroke-width="1.3"/>
<line x1="930.3" y1="233" x2="930.3" y2="236" stroke="#1f7fd0" stroke-width="1.3"/>
<line x1="904.0" y1="253.7" x2="904.0" y2="248.2" stroke="#bdf0ff" stroke-width="4" stroke-linecap="round"/><line x1="920.6" y1="260.6" x2="924.5" y2="256.7" stroke="#bdf0ff" stroke-width="4" stroke-linecap="round"/><line x1="927.5" y1="277.2" x2="933.0" y2="277.2" stroke="#bdf0ff" stroke-width="4" stroke-linecap="round"/><line x1="920.6" y1="293.8" x2="924.5" y2="297.7" stroke="#bdf0ff" stroke-width="4" stroke-linecap="round"/><line x1="904.0" y1="300.7" x2="904.0" y2="306.2" stroke="#bdf0ff" stroke-width="4" stroke-linecap="round"/><line x1="887.4" y1="293.8" x2="883.5" y2="297.7" stroke="#bdf0ff" stroke-width="4" stroke-linecap="round"/><line x1="880.5" y1="277.2" x2="875.0" y2="277.2" stroke="#bdf0ff" stroke-width="4" stroke-linecap="round"/><line x1="887.4" y1="260.6" x2="883.5" y2="256.7" stroke="#bdf0ff" stroke-width="4" stroke-linecap="round"/>
<circle cx="904" cy="277.2" r="19.8" fill="#f1fcff"/>
<text x="904" y="284.2" font-family='"Liberation Sans", sans-serif' font-size="19.5" fill="#2f7d95" text-anchor="middle">B/S</text>
<path d="M891.7,356.7 A23.6,23.6 0 1 0 917.5,356.7" fill="none" stroke="#f4fbff" stroke-width="10" stroke-linecap="round"/>
<rect x="900.6" y="346.5" width="10" height="34.5" rx="2" fill="#f4fbff"/>
<path d="M891.7,356.7 A23.6,23.6 0 1 0 917.5,356.7" fill="none" stroke="#d44a1c" stroke-width="6.4" stroke-linecap="round"/>
<rect x="902.4" y="348.5" width="6.4" height="30.5" rx="1" fill="#d44a1c"/>
<path d="M914.8,464 C910.5,459.3 903.5,458.8 898.5,462.3 C891.5,467.8 891,485.5 898,491.8 C903.5,496.2 910.5,494.8 914.8,490" fill="none" stroke="#dcf9ff" stroke-width="4.9"/>
<path d="M900,592 L900,560 C900,555 904,554 907,556 C911,559 916,563 921,563.5 C925,564 926,567 922,569 C916,572 909,569 904.5,566 L904.5,592 C904.5,598 900,600.5 895.5,600 C889.5,599.5 887,594 888,588 C889,582 894,579 898,582 Q899.5,583 900,585 Z" fill="#f3fbff"/>
<line x1="937" y1="181" x2="1117" y2="181" stroke="#111" stroke-width="1.8"/>
<circle cx="1116.6" cy="181" r="6.6" fill="#0a0a0a"/>
<line x1="936" y1="228.2" x2="1117" y2="228.2" stroke="#111" stroke-width="1.8"/>
<circle cx="1116.6" cy="228.2" r="6.6" fill="#0a0a0a"/>
<line x1="937" y1="280.8" x2="1117" y2="280.8" stroke="#111" stroke-width="1.8"/>
<circle cx="1116.6" cy="280.8" r="6.6" fill="#0a0a0a"/>
<line x1="937" y1="376.5" x2="1117" y2="376.5" stroke="#111" stroke-width="1.8"/>
<circle cx="1116.6" cy="376.5" r="6.6" fill="#0a0a0a"/>
<line x1="937" y1="481" x2="1117" y2="481" stroke="#111" stroke-width="1.8"/>
<circle cx="1116.6" cy="481" r="6.6" fill="#0a0a0a"/>
<line x1="937" y1="580.3" x2="1117" y2="580.3" stroke="#111" stroke-width="1.8"/>
<circle cx="1116.6" cy="580.3" r="6.6" fill="#0a0a0a"/>
<text x="1131.8" y="187.9" font-family='"Liberation Sans", sans-serif' font-weight="bold" font-size="23.8" fill="#0a0a0a">Dynamic mode</text>
<text x="1131.8" y="237.8" font-family='"Liberation Sans", sans-serif' font-weight="bold" font-size="23.8" fill="#0a0a0a">Mic</text>
<text x="1131.8" y="287.8" font-family='"Liberation Sans", sans-serif' font-weight="bold" font-size="23.8" fill="#0a0a0a">Speed/Brightness</text>
<text x="1131.8" y="381.5" font-family='"Liberation Sans", sans-serif' font-weight="bold" font-size="23.8" fill="#0a0a0a">ON/OFF</text>
<text x="1131.8" y="489.5" font-family='"Liberation Sans", sans-serif' font-weight="bold" font-size="23.8" fill="#0a0a0a">Static Color Mode</text>
<text x="1131.8" y="587.6" font-family='"Liberation Sans", sans-serif' font-weight="bold" font-size="23.8" fill="#0a0a0a">Music Mode</text>
<circle cx="1138.3" cy="305" r="2.7" fill="#111"/>
<circle cx="1138.3" cy="322.7" r="2.7" fill="#111"/>
<text x="1144" y="309.7" font-family='"Liberation Sans", sans-serif' font-size="14.9" fill="#111">Adjust brightness in static mode</text>
<text x="1144" y="327.4" font-family='"Liberation Sans", sans-serif' font-size="14.9" fill="#111">Adjust speed in dynamic mode</text>
</g>
<g transform="translate(0,0)">
<line x1="324" y1="52" x2="626" y2="52" stroke="#000" stroke-width="3.1"/>
<line x1="593" y1="52" x2="593" y2="205" stroke="#000" stroke-width="3"/>
<line x1="593" y1="317" x2="593" y2="481" stroke="#000" stroke-width="3"/>
<line x1="552" y1="481" x2="629" y2="481" stroke="#000" stroke-width="2.8"/>
<line x1="552" y1="481" x2="613" y2="527" stroke="#000" stroke-width="2.8"/>
<line x1="196" y1="604" x2="583" y2="505" stroke="#000" stroke-width="2.8"/>
<line x1="164" y1="583" x2="225" y2="628" stroke="#000" stroke-width="2.8"/>
<line x1="40" y1="562.4" x2="113" y2="545" stroke="#000" stroke-width="2.8"/>
<line x1="91" y1="604" x2="164" y2="586" stroke="#000" stroke-width="2.8"/>
<line x1="70" y1="556" x2="121" y2="595" stroke="#000" stroke-width="2.8"/>
<text x="542" y="260.8" font-family='"Liberation Sans", sans-serif' font-size="36.5" fill="#000" stroke="#000" stroke-width="0.6">&#x2007;5CM /</text>
<path d="M551.18,260.80 L551.18,238.75 L545.51,242.80 L545.51,239.77 L551.45,235.69 L554.40,235.69 L554.40,260.80Z" fill="#000" stroke="#000" stroke-width="0.6"/>
<text x="540" y="296.5" font-family='"Liberation Sans", sans-serif' font-size="36.5" fill="#000" stroke="#000" stroke-width="0.6">6 inch</text>
<text x="12.5" y="485" font-family='"Liberation Sans", sans-serif' font-size="31.5" letter-spacing="0.6" fill="#000" stroke="#000" stroke-width="0.5">2.5CM /</text>
<text x="13" y="521" font-family='"Liberation Sans", sans-serif' font-size="31.5" letter-spacing="0.8" fill="#000" stroke="#000" stroke-width="0.5">&#x2007; inch</text>
<path d="M20.92,521.00 L20.92,501.97 L16.03,505.47 L16.03,502.85 L21.15,499.33 L23.71,499.33 L23.71,521.00Z" fill="#000" stroke="#000" stroke-width="0.5"/>
<text transform="translate(281,619.5) rotate(-13.0)" font-family='"Liberation Sans", sans-serif' font-size="35.8" fill="#000" stroke="#000" stroke-width="0.7">&#x2007;2.3CM / 4.84 inch</text>
<path transform="translate(281,619.5) rotate(-13.0)" d="M9.00,0.00 L9.00,-21.62 L3.44,-17.66 L3.44,-20.63 L9.26,-24.63 L12.17,-24.63 L12.17,0.00Z" fill="#000" stroke="#000" stroke-width="0.7"/>
<rect x="146" y="629" width="446" height="73" rx="36.5" fill="#ffdf00"/>
<text x="369" y="683.5" font-family='"Liberation Sans", sans-serif' font-weight="bold" font-size="45.7" fill="#111" stroke="#111" stroke-width="1.1" word-spacing="-2" text-anchor="middle">5 Pixels Per Letter</text>
</g>
<g transform="translate(1,753)">
<line x1="324" y1="52" x2="626" y2="52" stroke="#000" stroke-width="3.1"/>
<line x1="593" y1="52" x2="593" y2="205" stroke="#000" stroke-width="3"/>
<line x1="593" y1="317" x2="593" y2="481" stroke="#000" stroke-width="3"/>
<line x1="552" y1="481" x2="629" y2="481" stroke="#000" stroke-width="2.8"/>
<line x1="552" y1="481" x2="613" y2="527" stroke="#000" stroke-width="2.8"/>
<line x1="196" y1="604" x2="583" y2="505" stroke="#000" stroke-width="2.8"/>
<line x1="164" y1="583" x2="225" y2="628" stroke="#000" stroke-width="2.8"/>
<line x1="40" y1="562.4" x2="113" y2="545" stroke="#000" stroke-width="2.8"/>
<line x1="91" y1="604" x2="164" y2="586" stroke="#000" stroke-width="2.8"/>
<line x1="70" y1="556" x2="121" y2="595" stroke="#000" stroke-width="2.8"/>
<text x="542" y="260.8" font-family='"Liberation Sans", sans-serif' font-size="36.5" fill="#000" stroke="#000" stroke-width="0.6">&#x2007;5CM /</text>
<path d="M551.18,260.80 L551.18,238.75 L545.51,242.80 L545.51,239.77 L551.45,235.69 L554.40,235.69 L554.40,260.80Z" fill="#000" stroke="#000" stroke-width="0.6"/>
<text x="540" y="296.5" font-family='"Liberation Sans", sans-serif' font-size="36.5" fill="#000" stroke="#000" stroke-width="0.6">6 inch</text>
<text x="12.5" y="485" font-family='"Liberation Sans", sans-serif' font-size="31.5" letter-spacing="0.6" fill="#000" stroke="#000" stroke-width="0.5">2.5CM /</text>
<text x="13" y="521" font-family='"Liberation Sans", sans-serif' font-size="31.5" letter-spacing="0.8" fill="#000" stroke="#000" stroke-width="0.5">&#x2007; inch</text>
<path d="M20.92,521.00 L20.92,501.97 L16.03,505.47 L16.03,502.85 L21.15,499.33 L23.71,499.33 L23.71,521.00Z" fill="#000" stroke="#000" stroke-width="0.5"/>
<text transform="translate(281,619.5) rotate(-13.0)" font-family='"Liberation Sans", sans-serif' font-size="35.8" fill="#000" stroke="#000" stroke-width="0.7">&#x2007;2CM / 4.72 inch</text>
<path transform="translate(281,619.5) rotate(-13.0)" d="M9.00,0.00 L9.00,-21.62 L3.44,-17.66 L3.44,-20.63 L9.26,-24.63 L12.17,-24.63 L12.17,0.00Z" fill="#000" stroke="#000" stroke-width="0.7"/>
<rect x="146" y="629" width="446" height="73" rx="36.5" fill="#ffdf00"/>
<text x="369" y="683.5" font-family='"Liberation Sans", sans-serif' font-weight="bold" font-size="45.7" fill="#111" stroke="#111" stroke-width="1.1" word-spacing="-2" text-anchor="middle">5 Pixels Per Letter</text>
</g>
</svg>
</body></html>
